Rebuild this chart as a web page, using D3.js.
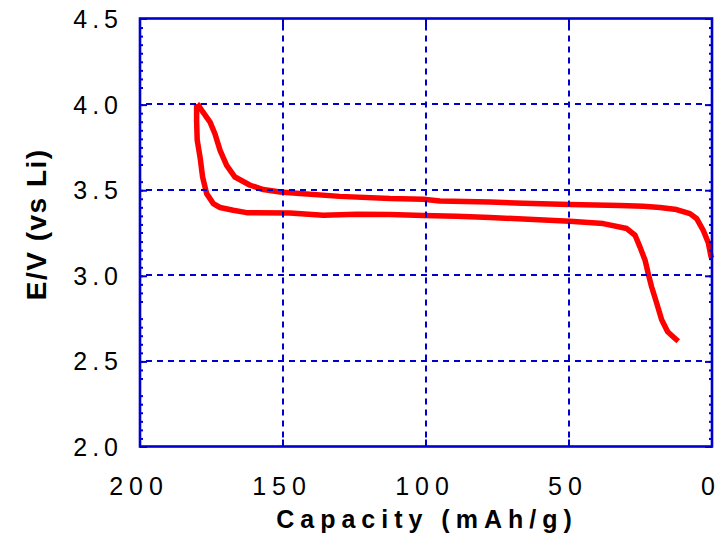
<!DOCTYPE html>
<html>
<head>
<meta charset="utf-8">
<script src="https://cdn.jsdelivr.net/npm/d3@7"></script>
<style>
  html, body { margin: 0; padding: 0; background: #fff; }
  svg { display: block; }
</style>
</head>
<body>
<script>
// Charge curve: capacity (mAh/g) and potential (V vs Li)
const chargeCap = [0.0, 0.35, 1.3, 3.0, 5.3, 7.7, 12.4, 18.2, 24.0, 32.2, 49.7, 66.0, 77.6, 95.1, 100.9, 112.6, 130.1, 144.1, 151.0, 156.9, 161.5, 166.8, 169.7, 172.0, 173.8, 175.5, 178.4, 179.6, 180.0];
const chargeV   = [3.10, 3.11, 3.19, 3.26, 3.33, 3.36, 3.384, 3.396, 3.403, 3.407, 3.413, 3.421, 3.428, 3.434, 3.444, 3.448, 3.461, 3.478, 3.487, 3.501, 3.526, 3.574, 3.642, 3.730, 3.827, 3.895, 3.963, 3.995, 4.0];

// Discharge curve
const dischargeCap = [180.2, 180.2, 180.0, 179.0, 178.1, 176.7, 174.4, 172.0, 167.4, 162.7, 147.6, 135.9, 124.2, 112.6, 100.9, 89.3, 77.6, 66.0, 49.7, 38.0, 29.8, 26.9, 25.2, 23.4, 22.3, 21.1, 19.3, 17.6, 15.5, 13.5, 11.8];
const dischargeV   = [4.0, 3.90, 3.79, 3.69, 3.574, 3.477, 3.419, 3.396, 3.38, 3.366, 3.364, 3.351, 3.357, 3.355, 3.349, 3.345, 3.337, 3.329, 3.316, 3.302, 3.273, 3.234, 3.166, 3.088, 3.010, 2.932, 2.835, 2.74, 2.67, 2.64, 2.615];

// Axis ticks
const xTicks = [200, 150, 100, 50, 0];
const xTickLabels = ["200", "150", "100", "50", "0"];
const yTicks = [2.0, 2.5, 3.0, 3.5, 4.0, 4.5];
const yTickLabels = ["2.0", "2.5", "3.0", "3.5", "4.0", "4.5"];

const W = 717, H = 538;
const blue = "#0000cc";
const red = "#ff0000";

const x = d3.scaleLinear().domain([200, 0]).range([140, 712]);
const y = d3.scaleLinear().domain([2.0, 4.5]).range([446.5, 18.5]);
const px = v => Math.round(v);

const svg = d3.select("body").append("svg")
  .attr("width", W).attr("height", H)
  .style("font-family", "'Liberation Sans', Arial, sans-serif");

const [x0, x1] = x.range();
const [y0, y1] = y.range();

// Curves
const line = d3.line().x(d => x(d[0])).y(d => y(d[1]));
const charge = chargeCap.map((c, i) => [c, chargeV[i]]);
const discharge = dischargeCap.map((c, i) => [c, dischargeV[i]]);

svg.append("g").selectAll("path").data([charge, discharge]).join("path")
  .attr("d", line)
  .attr("fill", "none")
  .attr("stroke", red)
  .attr("stroke-width", 5.5)
  .attr("stroke-linejoin", "round")
  .attr("stroke-linecap", "butt");

// Dashed grid
const grid = svg.append("g").attr("stroke", blue).attr("stroke-width", 2)
  .attr("stroke-dasharray", "6,5");
grid.selectAll("line.h").data(yTicks.filter(v => v > 2.0 && v < 4.5)).join("line")
  .attr("class", "h")
  .attr("x1", x0 + 6).attr("x2", x1 - 6)
  .attr("y1", d => px(y(d))).attr("y2", d => px(y(d)));
grid.selectAll("line.v").data(xTicks.filter(v => v > 0 && v < 200)).join("line")
  .attr("class", "v")
  .attr("x1", d => px(x(d))).attr("x2", d => px(x(d)))
  .attr("y1", y1 + 6).attr("y2", y0 - 6);

// Axes: ticks drawn inward on all four sides
const minorY = d3.range(2.0, 4.5001, 0.05).map(v => +v.toFixed(2));
const yr = d3.scaleLinear().domain(y.domain()).range([px(y0), px(y1)]);
const xr = d3.scaleLinear().domain(x.domain()).range([px(x0), px(x1)]);

function styleAxis(g) {
  g.select(".domain").remove();
  g.selectAll(".tick").attr("transform", function () {
    const t = d3.select(this).attr("transform");
    return t.replace(/\.5/g, "");
  });
  g.selectAll(".tick line").attr("stroke", blue).attr("stroke-width", 2);
}
svg.append("g").attr("transform", `translate(${x0},0)`)
  .call(d3.axisRight(yr).tickValues(yTicks).tickSize(7).tickFormat("")).call(styleAxis);
svg.append("g").attr("transform", `translate(${x0},0)`)
  .call(d3.axisRight(yr).tickValues(minorY).tickSize(3).tickFormat("")).call(styleAxis);
svg.append("g").attr("transform", `translate(${x1},0)`)
  .call(d3.axisLeft(yr).tickValues(yTicks).tickSize(7).tickFormat("")).call(styleAxis);
svg.append("g").attr("transform", `translate(${x1},0)`)
  .call(d3.axisLeft(yr).tickValues(minorY).tickSize(3).tickFormat("")).call(styleAxis);
svg.append("g").attr("transform", `translate(0,${y0})`)
  .call(d3.axisTop(xr).tickValues(xTicks).tickSize(7).tickFormat("")).call(styleAxis);
svg.append("g").attr("transform", `translate(0,${y1})`)
  .call(d3.axisBottom(xr).tickValues(xTicks).tickSize(7).tickFormat("")).call(styleAxis);

// Frame
svg.append("rect")
  .attr("x", x0).attr("y", y1)
  .attr("width", x1 - x0).attr("height", y0 - y1)
  .attr("fill", "none").attr("stroke", blue).attr("stroke-width", 2.6);

// Spread the letters of a text by a fixed gap, without trailing space
function spread(sel, gap) {
  sel.each(function () {
    const n = this.textContent.length;
    if (n > 1) {
      const w = this.getComputedTextLength();
      d3.select(this).attr("textLength", w + (n - 1) * gap).attr("lengthAdjust", "spacing");
    }
  });
}

// Tick labels
svg.append("g").selectAll("text").data(yTicks).join("text")
  .attr("x", 118).attr("y", d => y(d) + 9.5)
  .attr("text-anchor", "end")
  .attr("font-size", 25)
  .attr("fill", "#000")
  .text((d, i) => yTickLabels[i])
  .call(spread, 5);

svg.append("g").selectAll("text").data(xTicks).join("text")
  .attr("x", d => x(d) - 4).attr("y", 495)
  .attr("text-anchor", "middle")
  .attr("font-size", 25)
  .attr("fill", "#000")
  .text((d, i) => xTickLabels[i])
  .call(spread, 6);

// Axis titles
svg.append("text")
  .attr("x", 424).attr("y", 528)
  .attr("text-anchor", "middle")
  .attr("font-size", 25).attr("font-weight", "bold")
  .attr("fill", "#000")
  .text("Capacity (mAh/g)")
  .call(spread, 6);

svg.append("text")
  .attr("transform", "translate(46,225) rotate(-90)")
  .attr("text-anchor", "middle")
  .attr("font-size", 28).attr("font-weight", "bold")
  .attr("fill", "#000")
  .text("E/V (vs Li)")
  .call(spread, 1.5);
</script>
</body>
</html>
